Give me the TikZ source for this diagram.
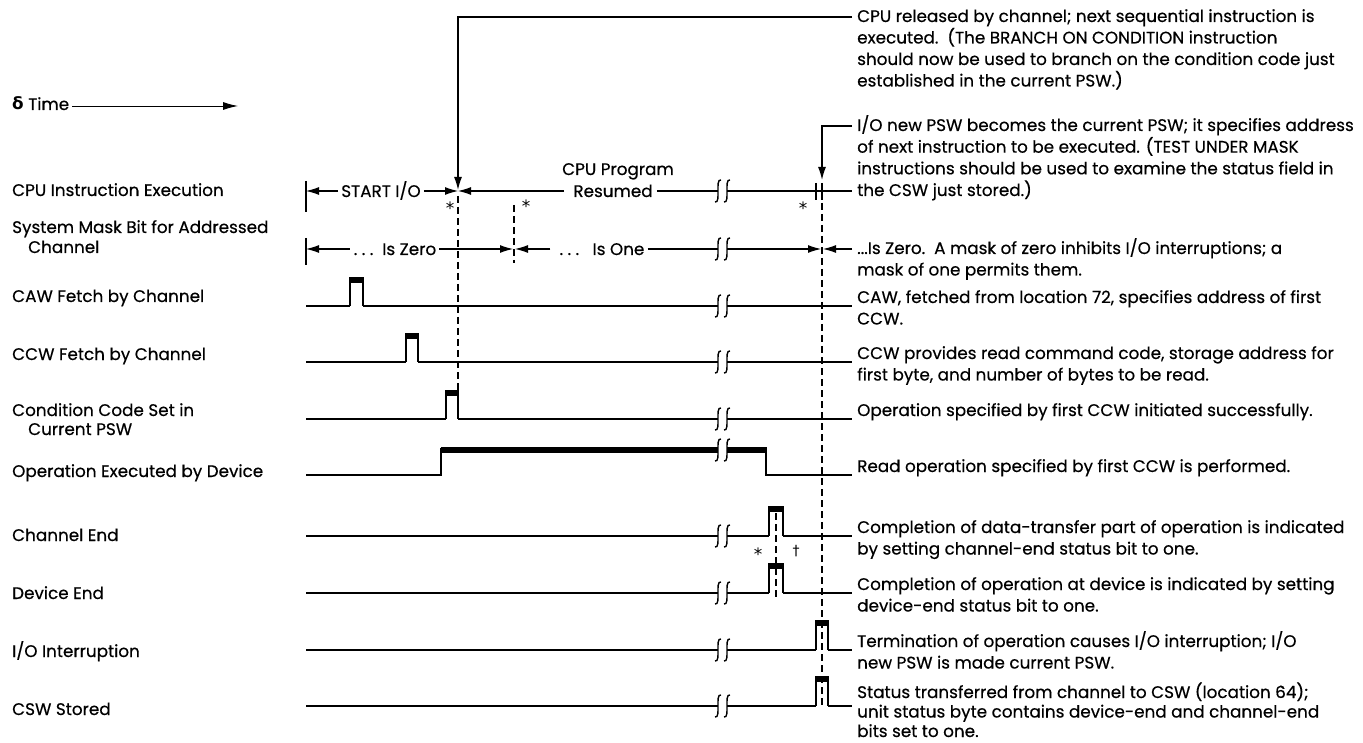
\documentclass[tikz,border=0pt]{standalone}
\usepackage{fontspec}
\setmainfont{Poppins}[FakeBold=0.4]
\newfontfamily\symf{DejaVu Sans}
\usetikzlibrary{arrows.meta}
\newcommand\tf{\fontsize{16.8}{20}\selectfont}
\newcommand\tpulse[4]{\draw[sig] (#1,#4) -- (#1,#3) -- (#2,#3) -- (#2,#4); \fill (#1,#3) rectangle (#2,{#3+5});}
\newcommand\tbrk[2]{\draw[brkl] ({#1+3},{#2-11}) .. controls ({#1-0.5},{#2-12}) and ({#1},{#2-5}) .. (#1,#2) .. controls ({#1},{#2+5}) and ({#1+0.5},{#2+12}) .. ({#1-3},{#2+11});}
\newcommand\tbreak[1]{\tbrk{718}{#1}\tbrk{727}{#1}}
\begin{document}
\begin{tikzpicture}[x=1pt,y=-1pt,
  txt/.style={anchor=base west,inner sep=0pt,font=\tf},
  ctr/.style={anchor=base,inner sep=0pt,font=\tf},
  ast/.style={inner sep=0pt,font=\symf\fontsize{17}{17}\selectfont},
  sig/.style={line width=1.1pt},
  thk/.style={line width=5.5pt},
  dsh/.style={line width=1.1pt,dash pattern=on 7pt off 4pt},
  arr/.style={-{Latex[length=13pt,width=8pt]}},
  brkl/.style={line width=1.4pt},
  vbar/.style={line width=1.2pt},
  dbar/.style={line width=1.8pt},
]
\useasboundingbox (0,0) rectangle (1363,743);
\fill[white] (0,0) rectangle (1363,743);

% ---------- left labels
\node[txt] (time) at (12,110) {{\symf\bfseries δ} Time};
\coordinate (timeend) at (238,106);
\draw[line width=0.9pt,-{Latex[length=15pt,width=8pt]}] ([xshift=3pt]time.east |- timeend) -- (timeend);
\node[txt] (l1) at (12,196) {CPU Instruction Execution};
\node[txt] (l2) at (12,233) {System Mask Bit for Addressed};
\node[txt] (l2b) at (28,253) {Channel};
\node[txt] (l3) at (12,302) {CAW Fetch by Channel};
\node[txt] (l4) at (12,360) {CCW Fetch by Channel};
\node[txt] (l5) at (12,416) {Condition Code Set in};
\node[txt] (l5b) at (28,435) {Current PSW};
\node[txt] (l6) at (12,477) {Operation Executed by Device};
\node[txt] (l7) at (12,541) {Channel End};
\node[txt] (l8) at (12,599) {Device End};
\node[txt] (l9) at (12,657) {I/O Interruption};
\node[txt] (l10) at (12,715) {CSW Stored};

% ---------- right texts
\node[txt] (p1a) at (857,22) {CPU released by channel; next sequential instruction is};
\node[txt] (p1b) at (857,43.5) {executed.\ \ (The BRANCH ON CONDITION instruction};
\node[txt] (p1c) at (857,65) {should now be used to branch on the condition code just};
\node[txt] (p1d) at (857,86.5) {established in the current PSW.)};
\node[txt] (p2a) at (857,131) {I/O new PSW becomes the current PSW; it specifies address};
\node[txt] (p2b) at (857,152.7) {of next instruction to be executed. (TEST UNDER MASK};
\node[txt] (p2c) at (857,174.3) {instructions should be used to examine the status field in};
\node[txt] (p2d) at (857,196) {the CSW just stored.)};
\node[txt] (ma) at (857,254) {...Is Zero.\ \ A mask of zero inhibits I/O interruptions; a};
\node[txt] (mb) at (857,275.5) {mask of one permits them.};
\node[txt] (ca) at (857,303) {CAW, fetched from location 72, specifies address of first};
\node[txt] (cb) at (857,324.5) {CCW.};
\node[txt] (cca) at (857,359) {CCW provides read command code, storage address for};
\node[txt] (ccb) at (857,380.5) {first byte, and number of bytes to be read.};
\node[txt] (cc) at (857,416) {Operation specified by first CCW initiated successfully.};
\node[txt] (op) at (857,472) {Read operation specified by first CCW is performed.};
\node[txt] (cea) at (857,533) {Completion of data-transfer part of operation is indicated};
\node[txt] (ceb) at (857,554.5) {by setting channel-end status bit to one.};
\node[txt] (dea) at (857,590) {Completion of operation at device is indicated by setting};
\node[txt] (deb) at (857,611.5) {device-end status bit to one.};
\node[txt] (ioa) at (857,647) {Termination of operation causes I/O interruption; I/O};
\node[txt] (iob) at (857,668.5) {new PSW is made current PSW.};
\node[txt] (cswa) at (857,698) {Status transferred from channel to CSW (location 64);};
\node[txt] (cswb) at (857,717.5) {unit status byte contains device-end and channel-end};
\node[txt] (cswc) at (857,737) {bits set to one.};

% ---------- top pointers
\coordinate (A) at (458,190);
\coordinate (B) at (822,180);
\draw[line width=1.3pt,arr] ([xshift=-5pt]p1a.west |- 0,17) -- (458,17) -- (A);
\draw[line width=1.3pt,arr] ([xshift=-5pt]p2a.west |- 0,126) -- (822,126) -- (B);

% ---------- CPU instruction row (y=191)
\draw[vbar] (306,181) -- (306,212);
\node[ctr] (sio) at (381,197) {START I/O};
\coordinate (c0) at (306,191);
\coordinate (c1) at (458,191);
\draw[sig,arr] ([xshift=-3pt]sio.west |- c0) -- (c0);
\draw[sig,arr] ([xshift=3pt]sio.east |- c1) -- (c1);
\node[ctr] (cpup) at (618,175) {CPU Program};
\node[ctr] (res) at (613,197) {Resumed};
\draw[sig,arr] ([xshift=-9pt]res.west |- c1) -- (c1);
\draw[sig] ([xshift=4pt]res.east |- c1) -- (718,191);
\tbreak{191}
\draw[sig] (727,191) -- (852,191);
\draw[dbar] (816,183) -- (816,200);
\draw[dbar] (822,183) -- (822,200);
\node[ast] (s1) at (450,208) {*};
\node[ast] (s2) at (526,206) {*};
\node[ast] (s3) at (803,208) {*};

% ---------- mask row (y=249)
\draw[vbar] (306,238) -- (306,265);
\coordinate (m0) at (306,249);
\coordinate (m1) at (513,249);
\coordinate (m2) at (515,249);
\coordinate (m3) at (821,249);
\coordinate (m4) at (823,249);
\node[ctr] (zero) at (395,255) {.\ .\ .\ \ Is Zero};
\node[ctr] (one) at (602,255) {.\ .\ .\ \ \ Is One};
\draw[sig,arr] ([xshift=-4pt]zero.west |- m0) -- (m0);
\draw[sig,arr] ([xshift=3pt]zero.east |- m1) -- (m1);
\draw[dsh] (514,205) -- (514,263);
\draw[sig,arr] ([xshift=-9pt]one.west |- m2) -- (m2);
\draw[sig] ([xshift=3pt]one.east |- m2) -- (718,249);
\tbreak{249}
\draw[sig,arr] (727,249) -- (m3);
\draw[sig,arr] ([xshift=-5pt]ma.west |- m4) -- (m4);

% ---------- main dashed lines
\draw[dsh] (458,196) -- (458,419);
\draw[dsh] (822,203) -- (822,706);

% ---------- CAW row (y=306)
\draw[sig] (306,306) -- (350,306); \tpulse{350}{363}{278}{306}
\draw[sig] (363,306) -- (718,306); \tbreak{306}
\draw[sig] (727,306) -- (852,306);
% ---------- CCW row (y=362)
\draw[sig] (306,362) -- (406,362); \tpulse{406}{418}{334}{362}
\draw[sig] (418,362) -- (718,362); \tbreak{362}
\draw[sig] (727,362) -- (852,362);
% ---------- CC row (y=419)
\draw[sig] (306,419) -- (446,419); \tpulse{446}{458}{391}{419}
\draw[sig] (458,419) -- (718,419); \tbreak{419}
\draw[sig] (727,419) -- (852,419);
% ---------- Operation row (low 475, high 450)
\draw[sig] (306,475) -- (441,475) -- (441,448);
\draw[thk] (440.5,450) -- (718,450); \tbreak{450}
\draw[thk] (727,450) -- (766.5,450);
\draw[sig] (766,448) -- (766,475) -- (852,475);
% ---------- Channel end (536)
\draw[sig] (306,536) -- (718,536); \tbreak{536}
\draw[sig] (727,536) -- (769,536); \tpulse{769}{783}{507}{536}
\draw[sig] (783,536) -- (852,536);
% ---------- Device end (593)
\draw[sig] (306,593) -- (718,593); \tbreak{593}
\draw[sig] (727,593) -- (769,593); \tpulse{769}{783}{564}{593}
\draw[sig] (783,593) -- (852,593);
\draw[dsh] (776,513) -- (776,600);
\node[ast] (s4) at (758,554) {*};
\node[ast] (s5) at (796,551) {\fontsize{14}{14}\selectfont †};
% ---------- I/O interruption (650)
\draw[sig] (306,650) -- (718,650); \tbreak{650}
\draw[sig] (727,650) -- (816,650); \tpulse{816}{828}{621}{650}
\draw[sig] (828,650) -- (852,650);
% ---------- CSW stored (706)
\draw[sig] (306,706) -- (718,706); \tbreak{706}
\draw[sig] (727,706) -- (816,706); \tpulse{816}{828}{677}{706}
\draw[sig] (828,706) -- (852,706);
\end{tikzpicture}
\end{document}
